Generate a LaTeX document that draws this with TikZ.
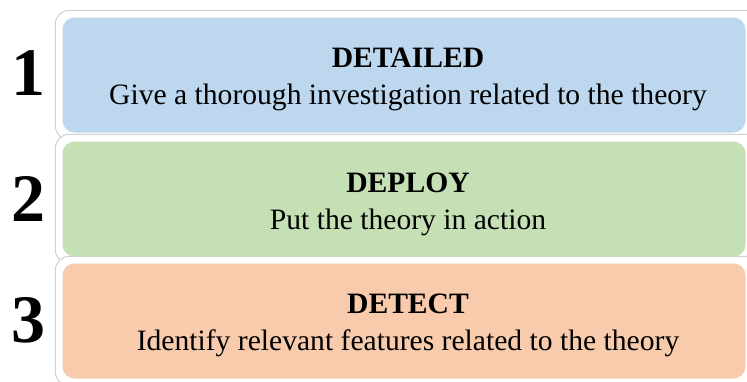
\documentclass[tikz,border=0pt]{standalone}
\usepackage{fontspec}
\setmainfont{Liberation Serif}
\usetikzlibrary{backgrounds}
\definecolor{detailblue}{HTML}{BDD7EE}
\definecolor{deploygreen}{HTML}{C5E0B4}
\definecolor{detectorange}{HTML}{F8CBAD}
\begin{document}
\begin{tikzpicture}[x=1pt, y=-1pt, step box/.style={rounded corners=12pt,minimum width=683pt,minimum height=115pt,inner sep=0pt},step text/.style={align=center,font=\fontsize{29.6}{38}\selectfont},frame/.style={draw=black!18,fill=white,line width=1pt,rounded corners=14pt}]
\useasboundingbox (0,0) rectangle (747,381);
\node [step box, fill=detailblue](d1) at (404,75) {};
\node [step box, fill=deploygreen](d2) at (404,199) {};
\node [step box, fill=detectorange](d3) at (404,321) {};
\node [step text](t1) at ([xshift=4pt,yshift=-4pt]d1.center) {\textbf{DETAILED}\\[-1pt]Give a thorough investigation related to the theory};
\node [step text](t2) at ([xshift=4pt,yshift=-5pt]d2.center) {\textbf{DEPLOY}\\[-1pt]Put the theory in action};
\node [step text](t3) at ([xshift=4pt,yshift=-4pt]d3.center) {\textbf{DETECT}\\[-1pt]Identify relevant features related to the theory};
\begin{scope}[on background layer]
\foreach \d in {d1,d2,d3}
  \draw [frame] ([xshift=-7pt,yshift=7pt]\d.north west) rectangle ([xshift=20pt,yshift=-7pt]\d.south east);
\end{scope}
\begin{scope}[every node/.style={font=\fontsize{68}{68}\selectfont\bfseries}]
\node (n1) at (28,73) {1};
\node (n2) at (28,199) {2};
\node (n3) at (28,320) {3};
\end{scope}
\end{tikzpicture}
\end{document}
